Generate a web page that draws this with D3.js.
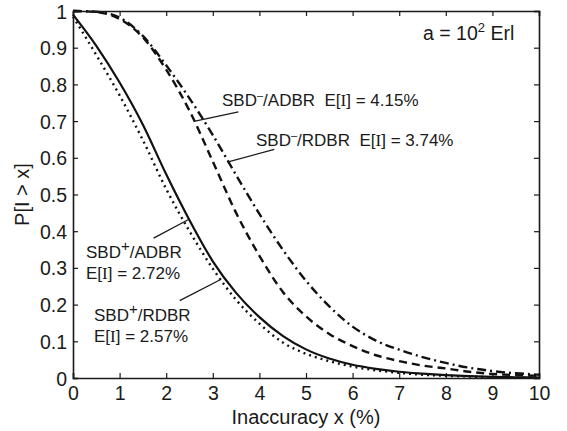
<!DOCTYPE html>
<html>
<head>
<meta charset="utf-8">
<script src="https://cdn.jsdelivr.net/npm/d3@7"></script>
<style>
  body { margin: 0; background: #fff; }
  svg { display: block; font-family: "Liberation Sans", Arial, sans-serif; }
</style>
</head>
<body>
<div id="chart"></div>
<script>
// inaccuracy x (%) where the CCDFs were read
const xValues = [0, 0.5, 1, 1.5, 2, 2.5, 3, 3.5, 4, 4.5, 5, 5.5, 6, 6.5, 7, 7.5, 8, 8.5, 9, 9.5, 10];
// P[I > x] for each scheme
const sbdPlusAdbr = [0.99, 0.905, 0.805, 0.69, 0.555, 0.43, 0.318, 0.232, 0.166, 0.115, 0.078, 0.053, 0.036, 0.025, 0.017, 0.012, 0.008, 0.005, 0.003, 0.002, 0.001];
const sbdPlusRdbr = [0.985, 0.88, 0.77, 0.648, 0.515, 0.4, 0.298, 0.213, 0.148, 0.097, 0.066, 0.046, 0.031, 0.021, 0.014, 0.009, 0.006, 0.004, 0.002, 0.001, 0.001];
const sbdMinusAdbr = [1.0, 0.997, 0.978, 0.928, 0.84, 0.728, 0.59, 0.45, 0.333, 0.235, 0.168, 0.12, 0.087, 0.062, 0.046, 0.034, 0.026, 0.017, 0.011, 0.008, 0.006];
const sbdMinusRdbr = [1.0, 0.998, 0.982, 0.932, 0.852, 0.762, 0.662, 0.553, 0.447, 0.35, 0.265, 0.195, 0.14, 0.102, 0.077, 0.057, 0.041, 0.028, 0.019, 0.013, 0.009];

const xTicks = [0, 1, 2, 3, 4, 5, 6, 7, 8, 9, 10];
const yTicks = [0, 0.1, 0.2, 0.3, 0.4, 0.5, 0.6, 0.7, 0.8, 0.9, 1];

const width = 567, height = 431;
const margin = {top: 11, right: 28, bottom: 53, left: 73};
const plotW = width - margin.left - margin.right;
const plotH = height - margin.top - margin.bottom;
const ink = '#1a1a1a';

const svg = d3.select('#chart').append('svg')
    .attr('width', width)
    .attr('height', height);

const g = svg.append('g')
    .attr('transform', 'translate(' + margin.left + ',' + margin.top + ')');

const x = d3.scaleLinear().domain([0, 10]).range([0, plotW]);
const y = d3.scaleLinear().domain([0, 1]).range([plotH, 0]);

/* ------- curves ---------- */
const series = [
    {values: sbdMinusRdbr, dash: '9,4,2,4', width: 2.4},
    {values: sbdMinusAdbr, dash: '8,5', width: 2.4},
    {values: sbdPlusRdbr, dash: '2,4', width: 2.4},
    {values: sbdPlusAdbr, dash: null, width: 2.2}
];

const line = d3.line()
    .x(d => x(d[0]))
    .y(d => y(d[1]))
    .curve(d3.curveMonotoneX);

g.append('g').attr('class', 'curves')
    .selectAll('path')
    .data(series)
    .enter()
    .append('path')
    .attr('d', s => line(xValues.map((v, i) => [v, s.values[i]])))
    .attr('fill', 'none')
    .attr('stroke', '#111')
    .attr('stroke-width', s => s.width)
    .attr('stroke-dasharray', s => s.dash);

/* ------- axes: box with inward ticks on every side ---------- */
const tickLen = 5;

const xBottom = g.append('g')
    .attr('transform', 'translate(0,' + plotH + ')')
    .call(d3.axisBottom(x).tickValues(xTicks).tickSize(-tickLen).tickPadding(8).tickFormat(d3.format('d')));
const xTop = g.append('g')
    .call(d3.axisTop(x).tickValues(xTicks).tickSize(-tickLen).tickFormat(''));
const yLeft = g.append('g')
    .call(d3.axisLeft(y).tickValues(yTicks).tickSize(-tickLen).tickPadding(6).tickFormat(d => d === 0 || d === 1 ? d3.format('d')(d) : d3.format('.1f')(d)));
const yRight = g.append('g')
    .attr('transform', 'translate(' + plotW + ',0)')
    .call(d3.axisRight(y).tickValues(yTicks).tickSize(-tickLen).tickFormat(''));

[xBottom, xTop, yLeft, yRight].forEach(a => {
    a.select('.domain').attr('stroke', ink).attr('stroke-width', 1.6);
    a.selectAll('.tick line').attr('stroke', ink).attr('stroke-width', 1.2);
    a.selectAll('.tick text')
        .attr('fill', ink)
        .style('font-size', '19.5px')
        .style('font-family', '"Liberation Sans", Arial, sans-serif');
});
yLeft.selectAll('.tick text').attr('dy', '0.36em');

/* ------- axis titles ---------- */
svg.append('text')
    .attr('x', margin.left + plotW / 2)
    .attr('y', 424)
    .attr('text-anchor', 'middle')
    .attr('fill', ink)
    .style('font-size', '20px')
    .text('Inaccuracy x (%)');

svg.append('text')
    .attr('transform', 'translate(29,' + (margin.top + plotH / 2) + ') rotate(-90)')
    .attr('text-anchor', 'middle')
    .attr('fill', ink)
    .style('font-size', '20px')
    .text('P[I > x]');

/* ------- annotations ---------- */
const note = svg.append('text')
    .attr('x', 423)
    .attr('y', 40)
    .attr('fill', ink)
    .style('font-size', '19.5px');
note.append('tspan').text('a = 10');
note.append('tspan').attr('dy', -8).style('font-size', '13px').text('2');
note.append('tspan').attr('dy', 8).text(' Erl');

const labels = [
    {sign: '\u2013', scheme: 'ADBR', mean: '4.15%', x: 222, y: 106, oneLine: true},
    {sign: '\u2013', scheme: 'RDBR', mean: '3.74%', x: 256, y: 146, oneLine: true},
    {sign: '+', scheme: 'ADBR', mean: '2.72%', x: 86, y: 258, oneLine: false},
    {sign: '+', scheme: 'RDBR', mean: '2.57%', x: 94, y: 321, oneLine: false}
];

function addMean(t) {
    // E[I] with the serif I
    t.append('tspan').text('E[');
    t.append('tspan').style('font-family', '"Liberation Serif", "Times New Roman", serif').text('I');
}

labels.forEach(l => {
    const t = svg.append('text')
        .attr('x', l.x)
        .attr('y', l.y)
        .attr('fill', ink)
        .style('font-size', '17px');
    t.append('tspan').text('SBD');
    t.append('tspan')
        .attr('dy', -7)
        .style('font-size', l.sign === '+' ? '15px' : '11px')
        .text(l.sign);
    t.append('tspan').attr('dy', 7).text('/' + l.scheme);
    if (l.oneLine) {
        t.append('tspan').text('\u00a0\u00a0');
        addMean(t);
        t.append('tspan').style('font-family', '"Liberation Sans", Arial, sans-serif').text('] = ' + l.mean);
    } else {
        const t2 = svg.append('text')
            .attr('x', l.x)
            .attr('y', l.y + 21)
            .attr('fill', ink)
            .style('font-size', '17px');
        addMean(t2);
        t2.append('tspan').style('font-family', '"Liberation Sans", Arial, sans-serif').text('] = ' + l.mean);
    }
});

// callout leaders in data coordinates: [on curve, near label]
const callouts = [
    [[2.62, 0.70], [3.55, 0.725]],
    [[3.31, 0.588], [4.32, 0.623]],
    [[2.48, 0.432], [1.73, 0.381]],
    [[3.18, 0.269], [2.29, 0.211]]
];
g.append('g').attr('class', 'callouts')
    .selectAll('line')
    .data(callouts)
    .enter()
    .append('line')
    .attr('x1', d => x(d[0][0]))
    .attr('y1', d => y(d[0][1]))
    .attr('x2', d => x(d[1][0]))
    .attr('y2', d => y(d[1][1]))
    .attr('stroke', ink)
    .attr('stroke-width', 1.3);
</script>
</body>
</html>
